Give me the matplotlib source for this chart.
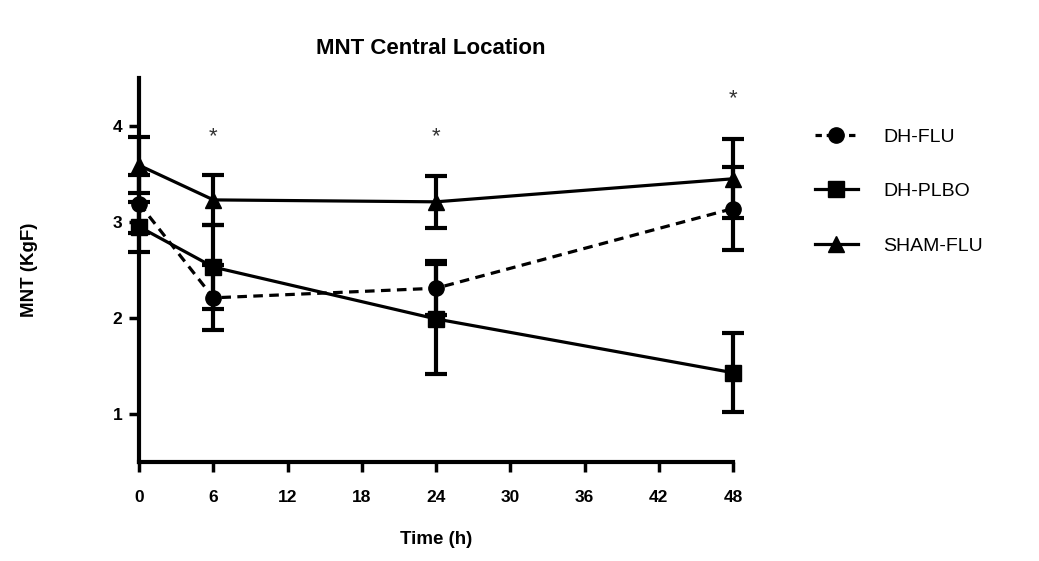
import numpy as np
import matplotlib
matplotlib.use("Agg")
import matplotlib.pyplot as plt
from matplotlib.lines import Line2D

plt.rcParams['font.family'] = ['Liberation Sans', 'DejaVu Sans']

# data
time_h = [0, 6, 24, 48]
dh_flu = [3.19, 2.21, 2.31, 3.14]
dh_flu_err = [0.30, 0.34, 0.28, 0.43]
dh_plbo = [2.95, 2.53, 1.99, 1.43]
dh_plbo_err = [0.26, 0.44, 0.57, 0.41]
sham_flu = [3.59, 3.23, 3.21, 3.45]
sham_flu_err = [0.29, 0.26, 0.27, 0.41]
star_x = [6, 24, 48]
star_y = [3.89, 3.89, 4.28]

fig = plt.figure(figsize=(10.39, 5.61), dpi=100)
ax = fig.add_axes([0.134, 0.1765, 0.5715, 0.6845])

lw = 2.3
common = dict(color="black", linewidth=lw, elinewidth=3.0, capsize=8, capthick=3.0,
              markersize=11, clip_on=False)
ax.errorbar(time_h, dh_flu, yerr=dh_flu_err, fmt="o", linestyle=(0, (3, 2)),
            zorder=3, **common)
ax.errorbar(time_h, dh_plbo, yerr=dh_plbo_err, fmt="s", linestyle="-",
            zorder=3, **common)
ax.errorbar(time_h, sham_flu, yerr=sham_flu_err, fmt="^", linestyle="-",
            zorder=3, **common)

for x, y in zip(star_x, star_y):
    ax.text(x, y, "*", ha="center", va="center", fontsize=16, color="#333333")

ax.set_xlim(0, 48)
ax.set_ylim(0.5, 4.5)
ax.set_xticks([0, 6, 12, 18, 24, 30, 36, 42, 48])
ax.set_yticks([1, 2, 3, 4])
for s in ["top", "right"]:
    ax.spines[s].set_visible(False)
for s in ["left", "bottom"]:
    ax.spines[s].set_linewidth(3)
ax.tick_params(width=2.5, length=7, labelsize=12.5)
ax.tick_params(axis="x", pad=13)
ax.tick_params(axis="y", pad=5)
for lab in ax.get_xticklabels() + ax.get_yticklabels():
    lab.set_fontweight("bold")

fig.text(0.4196, 1 - 540 / 561, "Time (h)", fontsize=13.5, fontweight="bold",
         ha="center", va="center")
fig.text(30 / 1039, 1 - 270 / 561, "MNT (KgF)", fontsize=13.5, fontweight="bold",
         ha="center", va="center", rotation=90)
fig.text(431 / 1039, 1 - 48 / 561, "MNT Central Location", fontsize=16,
         fontweight="bold", ha="center", va="center")

handles = [
    Line2D([], [], color="black", marker="o", linestyle=(0, (2, 1.5)), linewidth=lw, markersize=11),
    Line2D([], [], color="black", marker="s", linestyle="-", linewidth=lw, markersize=11),
    Line2D([], [], color="black", marker="^", linestyle="-", linewidth=lw, markersize=11),
]
ax.legend(handles, ["DH-FLU", "DH-PLBO", "SHAM-FLU"], loc="upper left",
          bbox_to_anchor=(1.125, 0.89), frameon=False, fontsize=14,
          handlelength=2.2, labelspacing=1.9, handletextpad=1.3, borderaxespad=0)

fig.savefig("out.png", dpi=100)
